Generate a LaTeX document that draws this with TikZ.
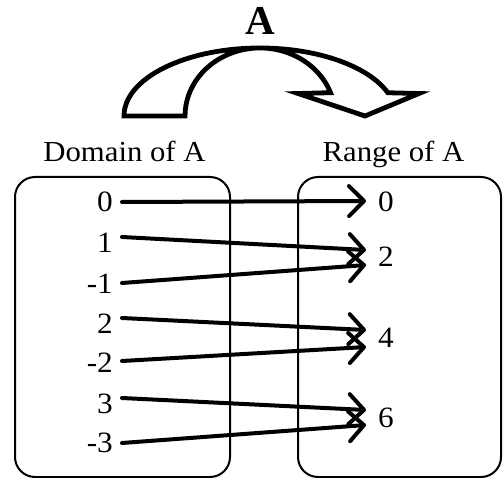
\documentclass[tikz,border=0pt]{standalone}
\usepackage{fontspec}
\setmainfont{Liberation Serif}[FakeStretch=1.06]
\newfontfamily\afont{Liberation Serif}
\usetikzlibrary{arrows.meta}
\begin{document}
\begin{tikzpicture}[x=1pt,y=-1pt,
  lab/.style={font=\fontsize{29}{30}\selectfont, inner sep=0pt},
  num/.style={font=\fontsize{29.5}{30}\selectfont, inner sep=0pt, text height=20pt, text depth=0pt},
  setbox/.style={draw, line width=2pt, rounded corners=20pt},
  conn/.style={line width=4pt, line cap=round, -{Straight Barb[length=15pt,width=30pt,round]}},
  bigarrow/.style={line width=4.8pt, line join=miter}]
\useasboundingbox (0,0) rectangle (503,478);
% sets
\draw[setbox] (15,177) rectangle (230,477);
\draw[setbox] (298,177) rectangle (501,477);
\node[lab, anchor=base] (dom) at (124.5,162) {Domain of A};
\node[lab, anchor=base] (ran) at (393.5,162) {Range of A};
% big curved arrow
\draw[bigarrow] (124,116) arc[start angle=180,end angle=340,x radius=136,y radius=68]
  -- (419,93.5) -- (365,116) -- (298,93.5) -- (330.5,92.7)
  arc[start angle=340,end angle=180,x radius=75,y radius=68] -- cycle;
\node[font=\afont\bfseries\fontsize{41}{42}\selectfont, inner sep=0pt, anchor=base] (A) at (260,35) {A};
% domain
\node[num, anchor=east] (d0) at (113,202) {0};
\node[num, anchor=east] (d1) at (113,243) {1};
\node[num, anchor=east] (dm1) at (113,283) {-1};
\node[num, anchor=east] (d2) at (113,323) {2};
\node[num, anchor=east] (dm2) at (113,362) {-2};
\node[num, anchor=east] (d3) at (113,403) {3};
\node[num, anchor=east] (dm3) at (113,442) {-3};
% range
\node[num, anchor=west] (r0) at (378,202) {0};
\node[num, anchor=west] (r2) at (378,257) {2};
\node[num, anchor=west] (r4) at (378,337) {4};
\node[num, anchor=west] (r6) at (378,417) {6};
% connectors
\draw[conn] ([xshift=9pt]d0.east) -- ([xshift=-12pt,yshift=1pt]r0.west);
\draw[conn] ([xshift=9pt,yshift=6pt]d1.east) -- ([xshift=-12pt,yshift=7pt]r2.west);
\draw[conn] ([xshift=9pt]dm1.east) -- ([xshift=-12pt,yshift=-8pt]r2.west);
\draw[conn] ([xshift=9pt,yshift=5pt]d2.east) -- ([xshift=-12pt,yshift=7pt]r4.west);
\draw[conn] ([xshift=9pt,yshift=1pt]dm2.east) -- ([xshift=-12pt,yshift=-10pt]r4.west);
\draw[conn] ([xshift=9pt,yshift=5pt]d3.east) -- ([xshift=-12pt,yshift=7pt]r6.west);
\draw[conn] ([xshift=9pt,yshift=-1pt]dm3.east) -- ([xshift=-12pt,yshift=-8pt]r6.west);
\end{tikzpicture}
\end{document}
